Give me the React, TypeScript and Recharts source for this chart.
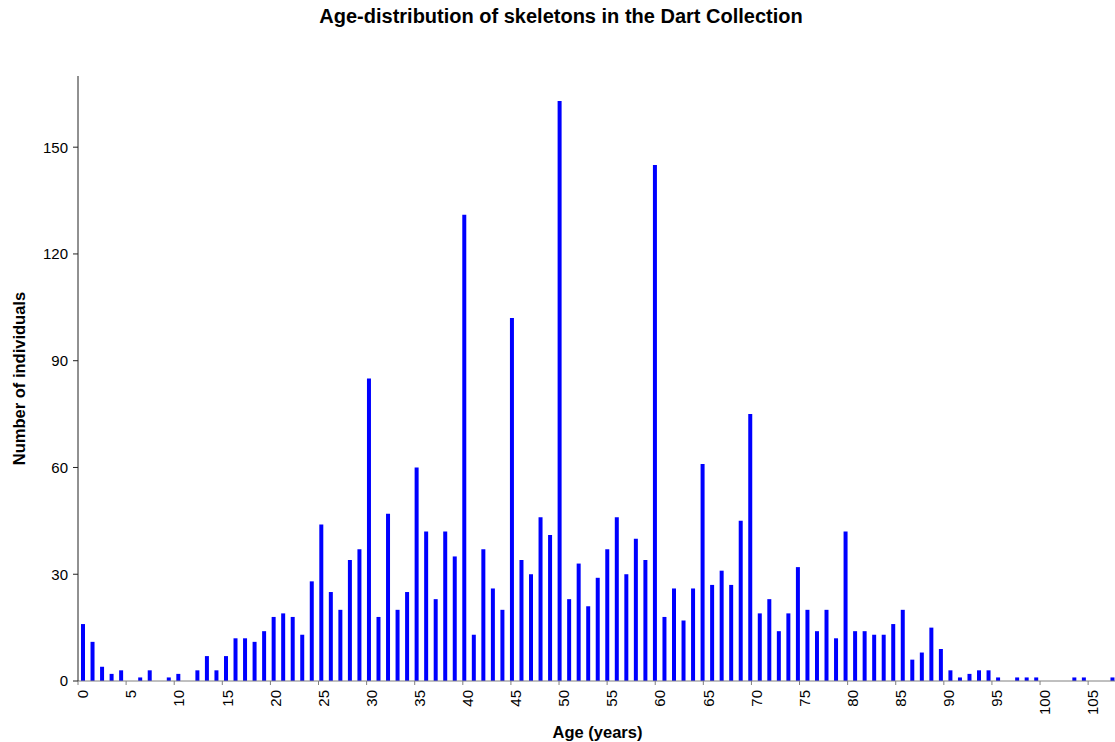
import { Bar, BarChart, XAxis, YAxis } from "recharts";

const ages = [
  0, 1, 2, 3, 4, 5, 6, 7, 8, 9, 10, 11, 12, 13, 14, 15, 16, 17, 18, 19,
  20, 21, 22, 23, 24, 25, 26, 27, 28, 29, 30, 31, 32, 33, 34, 35, 36, 37, 38, 39,
  40, 41, 42, 43, 44, 45, 46, 47, 48, 49, 50, 51, 52, 53, 54, 55, 56, 57, 58, 59,
  60, 61, 62, 63, 64, 65, 66, 67, 68, 69, 70, 71, 72, 73, 74, 75, 76, 77, 78, 79,
  80, 81, 82, 83, 84, 85, 86, 87, 88, 89, 90, 91, 92, 93, 94, 95, 96, 97, 98, 99,
  100, 101, 102, 103, 104, 105, 106, 107, 108,
];

const counts = [
  16, 11, 4, 2, 3, 0, 1, 3, 0, 1, 2, 0, 3, 7, 3, 7, 12, 12, 11, 14,
  18, 19, 18, 13, 28, 44, 25, 20, 34, 37, 85, 18, 47, 20, 25, 60, 42, 23, 42, 35,
  131, 13, 37, 26, 20, 102, 34, 30, 46, 41, 163, 23, 33, 21, 29, 37, 46, 30, 40, 34,
  145, 18, 26, 17, 26, 61, 27, 31, 27, 45, 75, 19, 23, 14, 19, 32, 20, 14, 20, 12,
  42, 14, 14, 13, 13, 16, 20, 6, 8, 15, 9, 3, 1, 2, 3, 3, 1, 0, 1, 1,
  1, 0, 0, 0, 1, 1, 0, 0, 1,
];

const ageTicks = [0, 5, 10, 15, 20, 25, 30, 35, 40, 45, 50, 55, 60, 65, 70, 75, 80, 85, 90, 95, 100, 105];
const countTicks = [0, 30, 60, 90, 120, 150];

const data = ages.map((age, i) => ({ age, count: counts[i] }));

const font = "'Liberation Sans', Arial, sans-serif";

// rotated age labels, reading bottom to top
const AgeTick = (props: any) => {
  const { x, y, payload } = props;
  return (
    <text
      transform={`translate(${x + 5},${y}) rotate(-90)`}
      textAnchor="end"
      dy="0.35em"
      fontSize={15}
      fontFamily={font}
      fill="#000"
    >
      {payload.value}
    </text>
  );
};

export default function App() {
  return (
    <div
      style={{
        position: "absolute",
        left: 0,
        top: 0,
        width: 1115,
        height: 742,
        overflow: "hidden",
        background: "#fff",
      }}
    >
      <BarChart
        width={1120}
        height={742}
        data={data}
        margin={{ top: 76, right: 3, bottom: 0, left: 0 }}
      >
        <XAxis xAxisId="bins" dataKey="age" type="category" hide />
        <XAxis
          xAxisId="age"
          type="number"
          domain={[0, 109]}
          allowDataOverflow
          ticks={ageTicks}
          interval={0}
          height={61}
          stroke="#808080"
          tickLine={{ stroke: "#808080" }}
          tickSize={4}
          tickMargin={5}
          tick={<AgeTick />}
          label={{
            value: "Age (years)",
            position: "insideBottom",
            offset: 4,
            fontSize: 16.5,
            fontWeight: "bold",
            fontFamily: font,
            fill: "#000",
          }}
        />
        <YAxis
          width={78}
          domain={[0, 170]}
          ticks={countTicks}
          interval={0}
          stroke="#222"
          tickLine={{ stroke: "#222" }}
          tickSize={5}
          tickMargin={5}
          tick={{ fontSize: 15, fill: "#000", fontFamily: font }}
          label={{
            value: "Number of individuals",
            angle: -90,
            position: "center",
            dx: -20,
            fontSize: 16.5,
            fontWeight: "bold",
            fontFamily: font,
            fill: "#000",
          }}
        />
        <Bar
          dataKey="count"
          xAxisId="bins"
          fill="#0000FF"
          barSize={4}
          isAnimationActive={false}
        />
      </BarChart>
      <div
        style={{
          position: "absolute",
          top: 5,
          left: 0,
          width: 1122,
          textAlign: "center",
          fontFamily: font,
          fontSize: 20,
          fontWeight: "bold",
          color: "#000",
        }}
      >
        Age-distribution of skeletons in the Dart Collection
      </div>
    </div>
  );
}
